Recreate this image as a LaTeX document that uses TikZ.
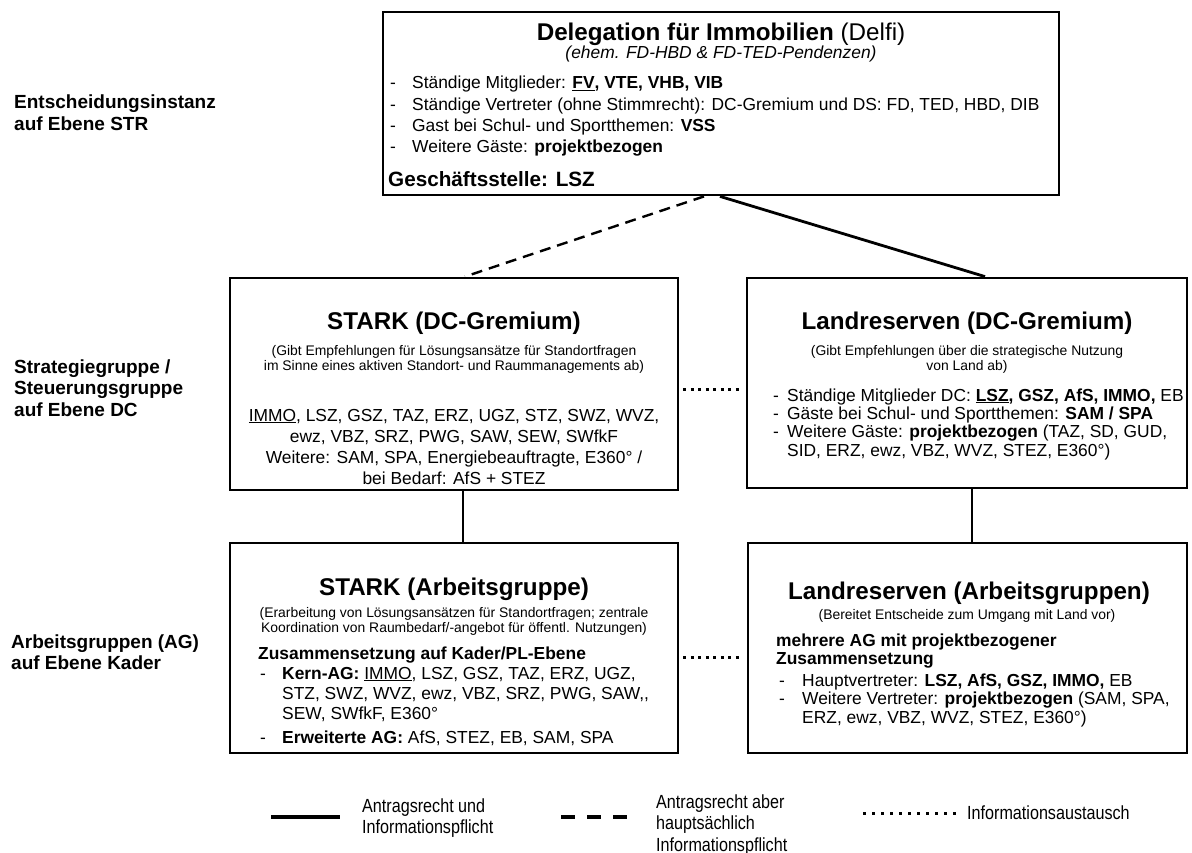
\documentclass[tikz,border=0pt]{standalone}
\usepackage{fontspec}
\setmainfont{Liberation Sans}
\newfontfamily\legfont[FakeStretch=0.85]{Liberation Sans}
\newcommand\titlef{\fontsize{24.2}{28}\selectfont\bfseries}
\newcommand\bodyf{\fontsize{17.4}{21.3}\selectfont}
\newcommand\smallf{\fontsize{13.9}{15.3}\selectfont}
\newcommand\labelf{\fontsize{19}{21.8}\selectfont\bfseries}
\newcommand\legf{\legfont\fontsize{19}{21.5}\selectfont}
\begin{document}
\begin{tikzpicture}[x=1pt,y=-1pt,
  box/.style={draw, line width=2.8pt, inner sep=0pt},
  txt/.style={inner sep=0pt, anchor=base},
  txtl/.style={inner sep=0pt, anchor=base west},
  solidcon/.style={line width=2.8pt},
  dashcon/.style={line width=2.4pt, dash pattern=on 11pt off 7pt},
  dotcon/.style={line width=3pt, dash pattern=on 3pt off 4.5pt, shorten <=4pt, shorten >=4pt}]
\useasboundingbox (0,0) rectangle (1192,853);
\fill[white] (0,0) rectangle (1192,853);

% ---------- boxes ----------
\node[box, minimum width=676pt, minimum height=183pt] (top) at (721,103.5) {};
\node[box, minimum width=448pt, minimum height=212pt] (sdc) at (454,384) {};
\node[box, minimum width=440pt, minimum height=210pt] (ldc) at (967,383) {};
\node[box, minimum width=448pt, minimum height=210pt] (sag) at (454,648) {};
\node[box, minimum width=439pt, minimum height=210pt] (lag) at (967.5,648) {};

% ---------- left labels ----------
\node[txtl] (lab1) at (14,109) {\labelf\begin{tabular}[t]{@{}l@{}}Entscheidungsinstanz\\auf Ebene STR\end{tabular}};
\node[txtl] (lab2) at (14,373) {\labelf\begin{tabular}[t]{@{}l@{}}Strategiegruppe /\\Steuerungsgruppe\\auf Ebene DC\end{tabular}};
\node[txtl] (lab3) at (11,648) {\labelf\begin{tabular}[t]{@{}l@{}}Arbeitsgruppen (AG)\\auf Ebene Kader\end{tabular}};

% ---------- top box ----------
\node[txt] (toptitle) at (721,41) {\titlef Delegation für Immobilien \mdseries(Delfi)};
\node[txt] (topsub) at (721,59) {\bodyf\itshape (ehem. FD-HBD \& FD-TED-Pendenzen)};
\node[txtl] (topbody) at (390,89) {\bodyf\begin{tabular}[t]{@{}p{22pt}@{}l@{}}
- & Ständige Mitglieder: \textbf{\underline{FV}, VTE, VHB, VIB}\\
- & Ständige Vertreter (ohne Stimmrecht): DC-Gremium und DS: FD, TED, HBD, DIB\\
- & Gast bei Schul- und Sportthemen: \textbf{VSS}\\
- & Weitere Gäste: \textbf{projektbezogen}
\end{tabular}};
\node[txtl] (topgs) at (388,187) {\fontsize{20.7}{24}\selectfont\bfseries Geschäftsstelle: LSZ};

% ---------- STARK DC ----------
\node[txt] (sdctitle) at (454,330) {\titlef STARK (DC-Gremium)};
\node[txt] (sdcsub) at (454,355) {\smallf\begin{tabular}[t]{@{}c@{}}(Gibt Empfehlungen für Lösungsansätze für Standortfragen\\im Sinne eines aktiven Standort- und Raummanagements ab)\end{tabular}};
\node[txt] (sdcbody) at (454,421) {\fontsize{17.4}{21}\selectfont\begin{tabular}[t]{@{}c@{}}
\underline{IMMO}, LSZ, GSZ, TAZ, ERZ, UGZ, STZ, SWZ, WVZ,\\
ewz, VBZ, SRZ, PWG, SAW, SEW, SWfkF\\
Weitere: SAM, SPA, Energiebeauftragte, E360° /\\
bei Bedarf: AfS + STEZ
\end{tabular}};

% ---------- Landreserven DC ----------
\node[txt] (ldctitle) at (967,330) {\titlef Landreserven (DC-Gremium)};
\node[txt] (ldcsub) at (967,355) {\smallf\begin{tabular}[t]{@{}c@{}}(Gibt Empfehlungen über die strategische Nutzung\\von Land ab)\end{tabular}};
\node[txtl] (ldcbody) at (773,401) {\fontsize{17.4}{18.4}\selectfont\begin{tabular}[t]{@{}p{14pt}@{}l@{}}
- & Ständige Mitglieder DC: \textbf{\underline{LSZ}, GSZ, AfS, IMMO,} EB\\
- & Gäste bei Schul- und Sportthemen: \textbf{SAM / SPA}\\
- & Weitere Gäste: \textbf{projektbezogen} (TAZ, SD, GUD,\\
  & SID, ERZ, ewz, VBZ, WVZ, STEZ, E360°)
\end{tabular}};

% ---------- STARK AG ----------
\node[txt] (sagtitle) at (454,595) {\titlef STARK (Arbeitsgruppe)};
\node[txt] (sagsub) at (454,617) {\smallf\begin{tabular}[t]{@{}c@{}}(Erarbeitung von Lösungsansätzen für Standortfragen; zentrale\\Koordination von Raumbedarf/-angebot für öffentl. Nutzungen)\end{tabular}};
\node[txtl] (sagzus) at (258,659) {\fontsize{17.4}{20}\selectfont\bfseries Zusammensetzung auf Kader/PL-Ebene};
\node[txtl] (sagbody) at (260,679) {\fontsize{17.4}{20}\selectfont\begin{tabular}[t]{@{}p{22pt}@{}l@{}}
- & \textbf{Kern-AG:} \underline{IMMO}, LSZ, GSZ, TAZ, ERZ, UGZ,\\
  & STZ, SWZ, WVZ, ewz, VBZ, SRZ, PWG, SAW,{},\\
  & SEW, SWfkF, E360°\\[4pt]
- & \textbf{Erweiterte AG:} AfS, STEZ, EB, SAM, SPA
\end{tabular}};

% ---------- Landreserven AG ----------
\node[txt] (lagtitle) at (969,599) {\titlef Landreserven (Arbeitsgruppen)};
\node[txt] (lagsub) at (967,619) {\smallf (Bereitet Entscheide zum Umgang mit Land vor)};
\node[txtl] (lagmehr) at (776,646) {\fontsize{17.4}{18.3}\selectfont\bfseries\begin{tabular}[t]{@{}l@{}}mehrere AG mit projektbezogener\\Zusammensetzung\end{tabular}};
\node[txtl] (lagbody) at (779,686) {\fontsize{17.4}{18.5}\selectfont\begin{tabular}[t]{@{}p{23pt}@{}l@{}}
- & Hauptvertreter: \textbf{LSZ, AfS, GSZ, IMMO,} EB\\
- & Weitere Vertreter: \textbf{projektbezogen} (SAM, SPA,\\
  & ERZ, ewz, VBZ, WVZ, STEZ, E360°)
\end{tabular}};

% ---------- connectors ----------
\draw[dashcon] ([xshift=-17pt]top.south) -- ([xshift=11pt]sdc.north);
\draw[solidcon] ([xshift=-1pt]top.south) -- ([xshift=18pt]ldc.north);
\draw[solidcon] ([xshift=9pt]sdc.south) -- ([xshift=9pt]sag.north);
\draw[solidcon] ([xshift=5pt]ldc.south) -- ([xshift=4.5pt]lag.north);
\draw[dotcon] ([yshift=-5pt]sdc.east) -- ([yshift=-6pt]ldc.west);
\draw[dotcon] ([yshift=-9pt]sag.east) -- ([yshift=-9pt]lag.west);

% ---------- legend ----------
\coordinate (l1a) at (271,817); \coordinate (l1b) at (340,817);
\coordinate (l2a) at (561,817); \coordinate (l2b) at (627,817);
\coordinate (l3a) at (863,813); \coordinate (l3b) at (960,813);
\draw[line width=3.5pt] (l1a) -- (l1b);
\draw[line width=3.5pt, dash pattern=on 14pt off 12pt] (l2a) -- (l2b);
\draw[line width=3pt, dash pattern=on 3pt off 6pt] (l3a) -- (l3b);
\node[txtl] (leg1) at (362,812) {\legf\begin{tabular}[t]{@{}l@{}}Antragsrecht und\\Informationspflicht\end{tabular}};
\node[txtl] (leg2) at (656,808) {\legf\begin{tabular}[t]{@{}l@{}}Antragsrecht aber\\hauptsächlich\\Informationspflicht\end{tabular}};
\node[txtl] (leg3) at (967,819) {\legf Informationsaustausch};
\end{tikzpicture}
\end{document}
